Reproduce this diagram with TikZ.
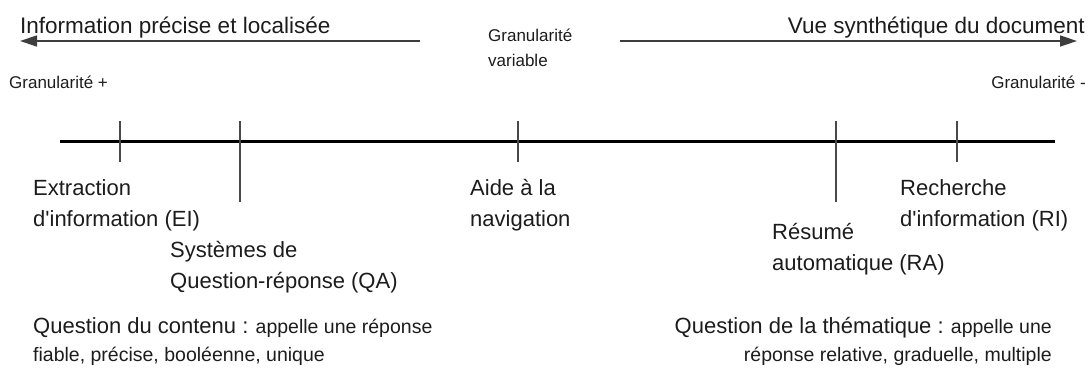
\documentclass[tikz,border=0pt]{standalone}
\usepackage{fontspec}
\setmainfont{Liberation Sans}
% family without the TeX input mapping, so ' stays a straight quote
\newfontfamily\lsans{Liberation Sans}
\usetikzlibrary{arrows.meta}
\definecolor{ink}{RGB}{28,28,28}
\begin{document}
\begin{tikzpicture}[x=1pt,y=-1pt,
  big/.style={inner sep=0pt,text=ink,font=\lsans\fontsize{22.5}{27}\selectfont},
  lbl/.style={anchor=base west,inner sep=0pt,text=ink,font=\lsans\fontsize{22}{26}\selectfont},
  small/.style={inner sep=0pt,text=ink,font=\lsans\fontsize{17}{20}\selectfont},
  note/.style={inner sep=0pt,text=ink,font=\lsans\fontsize{19.5}{24}\selectfont},
  dirarrow/.style={draw=ink!85,line width=1.4pt,-{Triangle[length=17pt,width=11pt]}},
  axisline/.style={draw=black,line width=3pt},
  tick/.style={draw=ink!80,line width=1.3pt}]
\useasboundingbox (0,0) rectangle (1090,367);

% direction arrows at the top
\coordinate (lstart) at (420,41);
\coordinate (ltip) at (20,41);
\coordinate (rstart) at (620,41);
\coordinate (rtip) at (1077,41);
\draw[dirarrow] (lstart) -- (ltip);
\draw[dirarrow] (rstart) -- (rtip);
\node[big,anchor=base west] (prec) at (20,33) {Information précise et localisée};
\node[big,anchor=base east] (synth) at (1085,33) {Vue synthétique du document};
\node[small,anchor=base west] (gv1) at (488,41) {Granularité};
\node[small,anchor=base west] (gv2) at (488,66) {variable};
\node[small,anchor=base west] (gplus) at (9,88) {Granularité +};
\node[small,anchor=base east] (gminus) at (1086,88) {Granularité -};

% the granularity axis and its ticks
\coordinate (ax0) at (60,141);
\coordinate (ax1) at (1055,141);
\draw[axisline] (ax0) -- (ax1);
\coordinate (tEIa) at (120,121);  \coordinate (tEIb) at (120,162);
\coordinate (tQAa) at (240,121);  \coordinate (tQAb) at (240,202);
\coordinate (tNVa) at (518,121);  \coordinate (tNVb) at (518,162);
\coordinate (tRAa) at (836,121);  \coordinate (tRAb) at (836,202);
\coordinate (tRIa) at (957,121);  \coordinate (tRIb) at (957,162);
\draw[tick] (tEIa) -- (tEIb);
\draw[tick] (tQAa) -- (tQAb);
\draw[tick] (tNVa) -- (tNVb);
\draw[tick] (tRAa) -- (tRAb);
\draw[tick] (tRIa) -- (tRIb);

% task labels
\node[lbl] (ei1) at (33,195) {Extraction};
\node[lbl] (ei2) at (33,226) {d'information (EI)};
\node[lbl] (qa1) at (170,257) {Systèmes de};
\node[lbl] (qa2) at (170,288) {Question-réponse (QA)};
\node[lbl] (nv1) at (470,195) {Aide à la};
\node[lbl] (nv2) at (470,226) {navigation};
\node[lbl] (ra1) at (772,239) {Résumé};
\node[lbl] (ra2) at (772,270) {automatique (RA)};
\node[lbl] (ri1) at (900,195) {Recherche};
\node[lbl] (ri2) at (900,226) {d'information (RI)};

% question types
\node[note,anchor=base west] (qc1) at (33,333) {{\fontsize{22}{26}\selectfont Question du contenu :} appelle une réponse};
\node[note,anchor=base west] (qc2) at (33,361) {fiable, précise, booléenne, unique};
\node[note,anchor=base east] (qt1) at (1052,333) {{\fontsize{22}{26}\selectfont Question de la thématique :} appelle une};
\node[note,anchor=base east] (qt2) at (1052,361) {réponse relative, graduelle, multiple};
\end{tikzpicture}
\end{document}
